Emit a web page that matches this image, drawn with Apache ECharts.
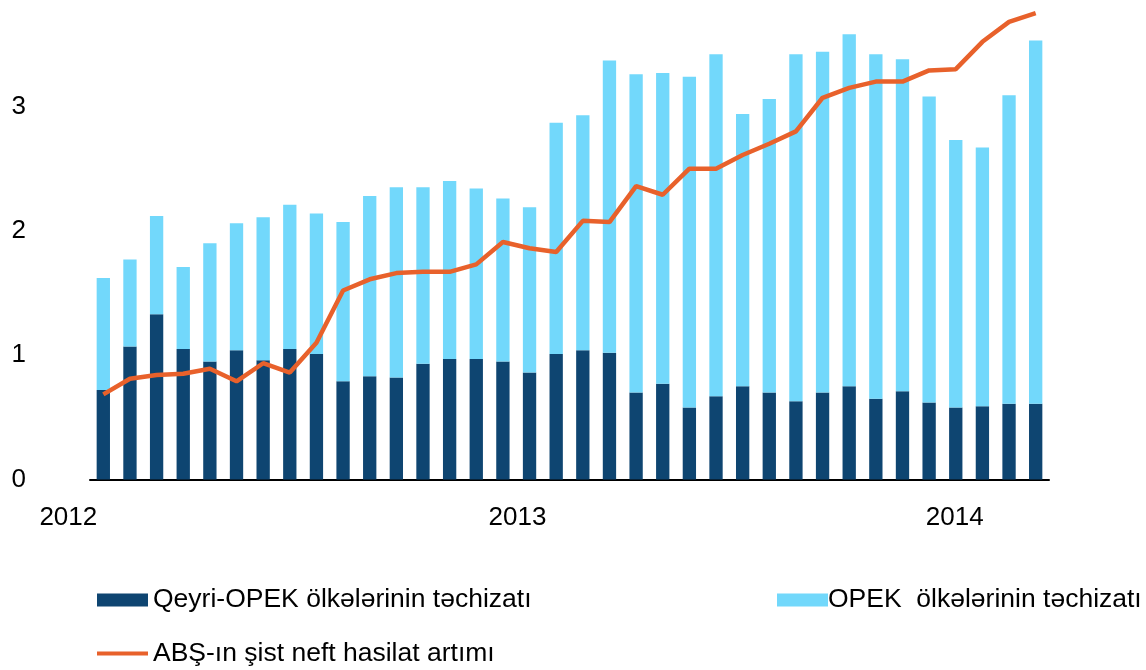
<!DOCTYPE html>
<html lang="az">
<head>
  <meta charset="UTF-8">
  <title>Neft təchizatı</title>
  <script src="https://cdn.jsdelivr.net/npm/echarts@6/dist/echarts.min.js"></script>
  <style>
    body { margin: 0; padding: 0; background: #fff; }
    #chart { width: 1146px; height: 670px; }
  </style>
</head>
<body>
  <div id="chart"></div>
  <script>
    // periods (one bar each)
    const periods = ['1','2','3','4','5','6','7','8','9','10','11','12','13','14','15','16','17','18',
      '19','20','21','22','23','24','25','26','27','28','29','30','31','32','33','34','35','36'];

    // Qeyri-OPEK (dark, bottom part of the stack)
    const nonOpec = [0.72, 1.07, 1.33, 1.05, 0.95, 1.04, 0.96, 1.05, 1.01, 0.79, 0.83, 0.82,
      0.93, 0.97, 0.97, 0.95, 0.86, 1.01, 1.04, 1.02, 0.70, 0.77, 0.58, 0.67,
      0.75, 0.70, 0.63, 0.70, 0.75, 0.65, 0.71, 0.62, 0.58, 0.59, 0.61, 0.61];

    // OPEK (light, on top)
    const opec = [0.90, 0.70, 0.79, 0.66, 0.95, 1.02, 1.15, 1.16, 1.13, 1.28, 1.45, 1.53,
      1.42, 1.43, 1.37, 1.31, 1.33, 1.86, 1.89, 2.35, 2.56, 2.50, 2.66, 2.75,
      2.19, 2.36, 2.79, 2.74, 2.83, 2.77, 2.67, 2.46, 2.15, 2.08, 2.48, 2.92];

    // ABŞ şist nefti
    const shale = [0.685, 0.81, 0.84, 0.85, 0.89, 0.79, 0.935, 0.86, 1.10, 1.52, 1.61, 1.66,
      1.67, 1.67, 1.73, 1.91, 1.86, 1.83, 2.08, 2.07, 2.36, 2.29, 2.50, 2.50,
      2.61, 2.70, 2.80, 3.07, 3.15, 3.20, 3.20, 3.29, 3.30, 3.52, 3.68, 3.75];

    // year labels on the x axis: index of bar -> text
    const yearTicks = { 0: '2012', 16: '2013', 32: '2014' };
    // small shifts so the years sit where the original put them
    const yearShift = { 0: -35, 16: -12, 32: -1 };

    const names = ['Qeyri-OPEK ölkələrinin təchizatı', 'OPEK  ölkələrinin təchizatı', 'ABŞ-ın şist neft hasilat artımı'];

    const font = "'Liberation Sans', Arial, sans-serif";

    const chart = echarts.init(document.getElementById('chart'));

    const legendBase = {
      orient: 'horizontal',
      padding: 0,
      itemWidth: 51,
      itemHeight: 13,
      icon: 'rect',
      textStyle: { fontFamily: font, fontSize: 26.5, lineHeight: 28, color: '#000' },
      selectedMode: false
    };

    const option = {
      animation: false,
      textStyle: { fontFamily: font },
      grid: { left: 90, right: 97, top: 7, bottom: 190.5 },
      legend: [
        Object.assign({}, legendBase, { data: [names[0]], left: 97, top: 586 }),
        Object.assign({}, legendBase, {
          data: [names[1]], left: 777, top: 586,
          textStyle: Object.assign({}, legendBase.textStyle, { padding: [0, 0, 0, -5] })
        }),
        Object.assign({}, legendBase, { data: [names[2]], left: 97, top: 639.5, itemHeight: 4 })
      ],
      xAxis: {
        type: 'category',
        data: periods,
        axisLine: { lineStyle: { color: '#000', width: 2 } },
        axisTick: { show: false },
        axisLabel: {
          interval: (i) => yearTicks[i] !== undefined,
          margin: 25,
          formatter: (v, i) => {
            const s = yearShift[i] || 0;
            return '{' + (s < 0 ? 'l' : 'r') + i + '|' + yearTicks[i] + '}';
          },
          rich: (function () {
            const r = {};
            Object.keys(yearShift).forEach(k => {
              const s = yearShift[k];
              const st = { fontFamily: font, fontSize: 26, color: '#000' };
              st.padding = s < 0 ? [0, -2 * s, 0, 0] : [0, 0, 0, 2 * s];
              r[(s < 0 ? 'l' : 'r') + k] = st;
            });
            return r;
          })()
        }
      },
      yAxis: {
        type: 'value',
        min: 0,
        max: 3.8,
        interval: 1,
        splitLine: { show: false },
        axisLine: { show: false },
        axisTick: { show: false },
        axisLabel: {
          margin: 64,
          fontSize: 26,
          color: '#000',
          fontFamily: font,
          formatter: v => (Number.isInteger(v) ? String(v) : '')
        }
      },
      series: [
        {
          name: names[0],
          type: 'bar',
          stack: 'supply',
          barWidth: '50%',
          itemStyle: { color: '#0e4571' },
          data: nonOpec
        },
        {
          name: names[1],
          type: 'bar',
          stack: 'supply',
          barWidth: '50%',
          itemStyle: { color: '#72d8fb' },
          data: opec
        },
        {
          name: names[2],
          type: 'line',
          symbol: 'none',
          lineStyle: { color: '#e8612b', width: 4.5 },
          itemStyle: { color: '#e8612b' },
          data: shale,
          z: 5
        }
      ]
    };

    chart.setOption(option);
  </script>
</body>
</html>
